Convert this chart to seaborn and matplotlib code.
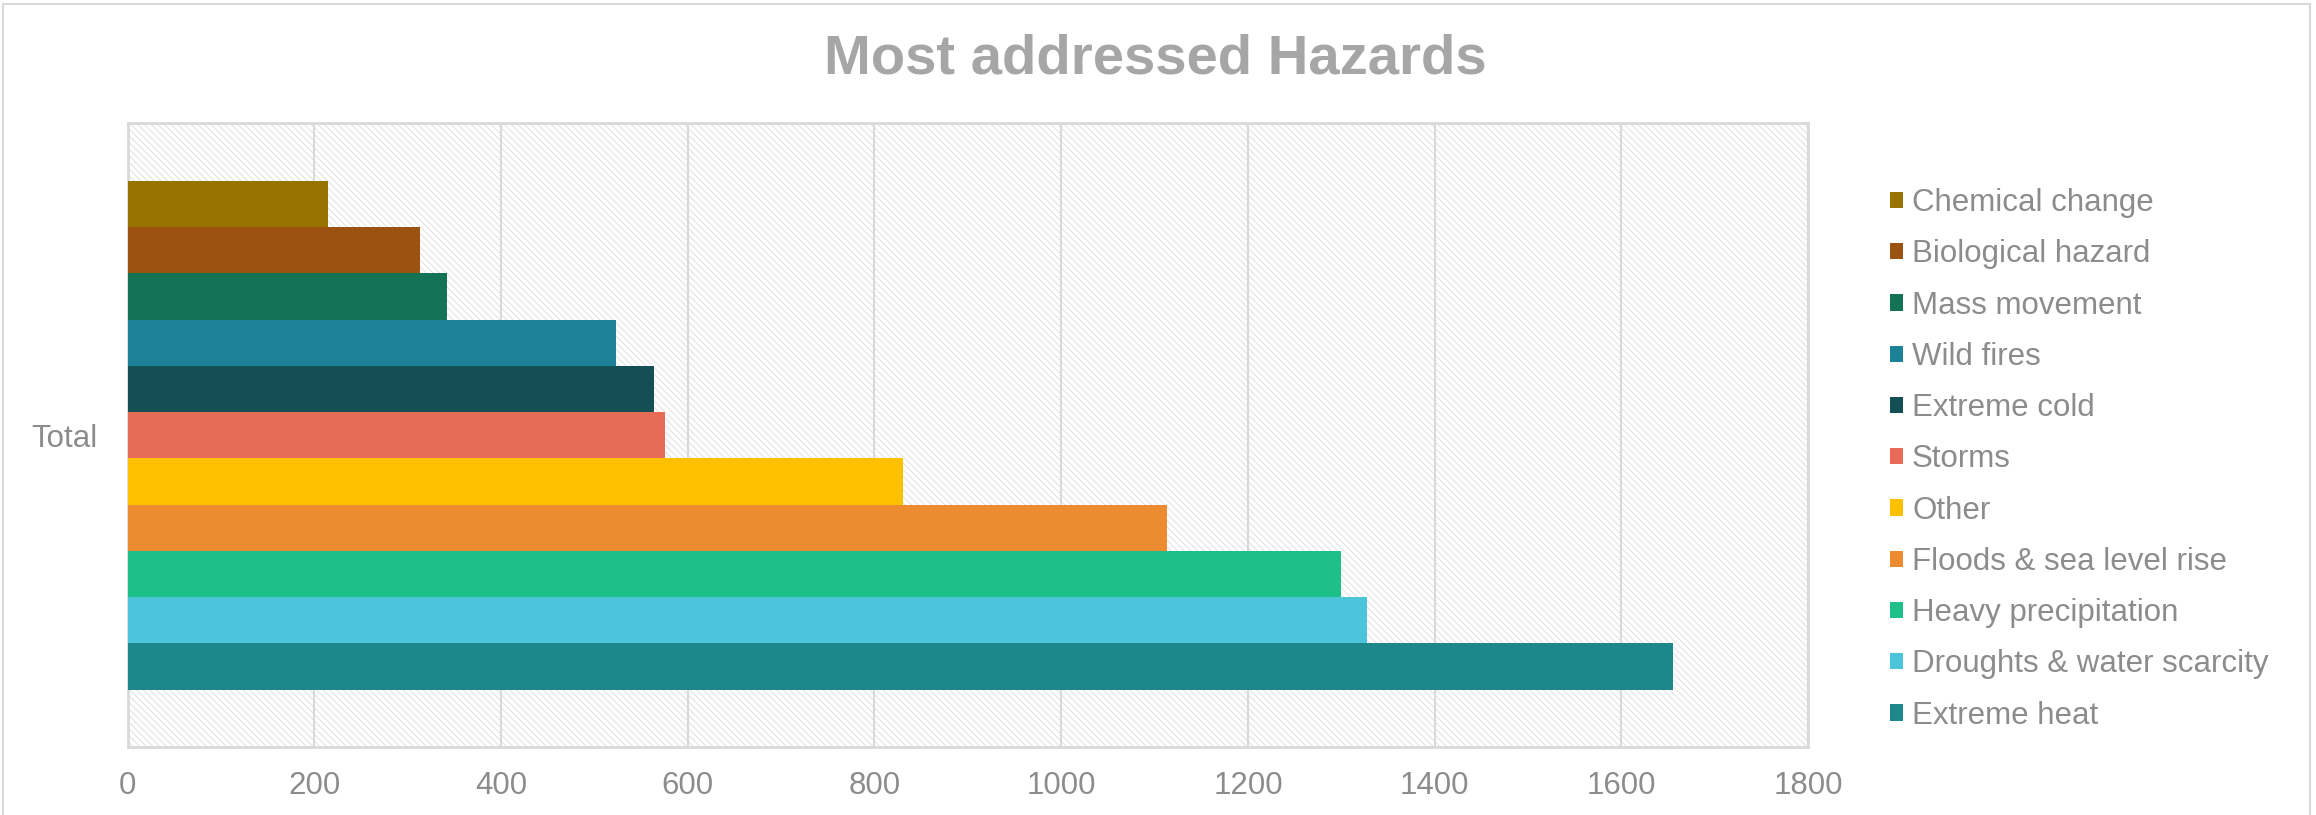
import pandas as pd
import seaborn as sns
import matplotlib.pyplot as plt
from matplotlib.patches import Rectangle, Patch

hazards = ["Chemical change", "Biological hazard", "Mass movement", "Wild fires",
           "Extreme cold", "Storms", "Other", "Floods & sea level rise",
           "Heavy precipitation", "Droughts & water scarcity", "Extreme heat"]
counts = [215, 313, 342, 523, 564, 576, 831, 1113, 1300, 1328, 1655]
colors = ["#997300", "#9C5211", "#137354", "#1D8298", "#134F55", "#E86B57",
          "#FFC000", "#ED8B31", "#1FBF8A", "#4BC4DC", "#1E878C"]
xticks = [0, 200, 400, 600, 800, 1000, 1200, 1400, 1600, 1800]

df = pd.DataFrame({"group": ["Total"] * len(hazards), "hazard": hazards, "count": counts})

sns.set_style("white")
plt.rcParams["font.family"] = ["Liberation Sans", "DejaVu Sans"]
plt.rcParams["hatch.linewidth"] = 0.6

text_gray = "#8C8C8C"
line_gray = "#D9D9D9"

fig = plt.figure(figsize=(23.16, 8.15), dpi=100)
ax = fig.add_axes([0.0551, 0.0834, 0.7256, 0.7651])

# hatched plot area background
ax.add_patch(Rectangle((0, 0), 1, 1, transform=ax.transAxes, facecolor="white",
                       edgecolor="#DADADA", linewidth=0, hatch="\\\\\\\\\\", zorder=0))

sns.barplot(data=df, x="count", y="group", hue="hazard", hue_order=hazards,
            palette=colors, orient="h", width=0.816, saturation=1,
            legend=False, ax=ax, zorder=3)
for p in ax.patches[1:]:
    p.set_edgecolor("none")

ax.set_xlim(0, 1800)
ax.set_ylim(0.5, -0.5)
ax.set_xticks(xticks)
ax.set_xticklabels([str(t) for t in xticks])
ax.set_xlabel("")
ax.set_ylabel("")
ax.grid(axis="x", color=line_gray, linewidth=1.5, zorder=1)
ax.set_axisbelow(True)
ax.tick_params(axis="both", length=0, labelsize=22.5, labelcolor=text_gray)
ax.tick_params(axis="x", pad=17)
ax.tick_params(axis="y", pad=22)
for s in ax.spines.values():
    s.set_color(line_gray)
    s.set_linewidth(2)

handles = [Patch(facecolor=c, edgecolor="none", label=h) for h, c in zip(hazards, colors)]
leg = fig.legend(handles=handles, loc="upper left", bbox_to_anchor=(0.8105, 0.7845),
                 frameon=False, fontsize=22.5, handlelength=0.42, handleheight=0.42,
                 handletextpad=0.3, labelspacing=0.68, borderaxespad=0)
for t in leg.get_texts():
    t.set_color(text_gray)

fig.text(0.499, 0.9276, "Most addressed Hazards", ha="center", va="center",
         fontsize=40.5, fontweight="bold", color="#A6A6A6")

# chart border
fig.add_artist(Rectangle((0.0013, -0.01), 0.9962, 1.005, transform=fig.transFigure,
                         facecolor="none", edgecolor=line_gray, linewidth=1.5))

fig.savefig("out.png", dpi=100)
